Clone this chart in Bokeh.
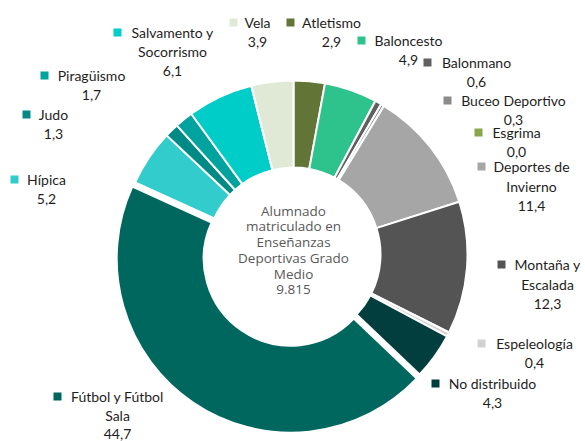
import math
from bokeh.plotting import figure
from bokeh.models import ColumnDataSource, Range1d
from bokeh.embed import file_html
from bokeh.resources import INLINE
from bokeh.core.properties import value

# ---------------- data ----------------
categories = ["Atletismo", "Baloncesto", "Balonmano", "Buceo Deportivo", "Esgrima",
              "Deportes de Invierno", "Montaña y Escalada", "Espeleología", "No distribuido",
              "Fútbol y Fútbol Sala", "Hípica", "Judo", "Piragüismo",
              "Salvamento y Socorrismo", "Vela"]
values = [2.9, 4.9, 0.6, 0.3, 0.0, 11.4, 12.3, 0.4, 4.3, 44.7, 5.2, 1.3, 1.7, 6.1, 3.9]
center_title = ["Alumnado", "matriculado en", "Enseñanzas", "Deportivas Grado", "Medio"]
total_students = "9.815"

# ---------------- styles / layout ----------------
colors = ["#637536", "#2ec28c", "#606060", "#8c8c8c", "#8aa64a",
          "#a6a6a6", "#545454", "#d2d2d2", "#023e3e",
          "#00675f", "#33cccc", "#008a86", "#00a39e",
          "#00ccc8", "#e0e8d6"]
line_breaks = {"Deportes de Invierno": ["Deportes de", "Invierno"],
               "Montaña y Escalada": ["Montaña y", "Escalada"],
               "Fútbol y Fútbol Sala": ["Fútbol y Fútbol", "Sala"],
               "Salvamento y Socorrismo": ["Salvamento y", "Socorrismo"]}
# label layout in pixels: (text centre x, first line y, marker x, line height)
label_pos = {"Atletismo": (331, 22, 290, 19.5), "Baloncesto": (408, 40, 361, 19.5),
             "Balonmano": (476, 62, 427, 19.5), "Buceo Deportivo": (513, 100, 447, 19),
             "Esgrima": (516, 132, 478, 19), "Deportes de Invierno": (531, 166, 481, 19.5),
             "Montaña y Escalada": (547, 264, 501, 19.5), "Espeleología": (534, 343, 481, 19.5),
             "No distribuido": (492, 383, 435, 19.5), "Fútbol y Fútbol Sala": (117, 396, 57, 18.5),
             "Hípica": (46, 179, 14, 19.5), "Judo": (53, 114, 26, 19.5),
             "Piragüismo": (91, 75, 44, 19.5),
             "Salvamento y Socorrismo": (172, 32, 117, 19), "Vela": (257, 22, 233, 19.5)}
explode = {"Fútbol y Fútbol Sala": 5}

W, H = 585, 441
CX, CY = 293, 254
R_OUT, R_IN = 174, 87
LABEL_FONT = "Lato"
LABEL_SIZE = "14px"


def fy(ypix):
    return H - ypix


p = figure(width=W, height=H, x_range=Range1d(0, W), y_range=Range1d(0, H),
           output_backend="svg", toolbar_location=None, min_border=0,
           x_axis_type=None, y_axis_type=None)
p.grid.visible = False
p.outline_line_color = None
p.background_fill_color = "white"
p.border_fill_color = "white"

total = sum(values)
xs, ys, starts, ends, cols = [], [], [], [], []
cum = 0.0
for cat, v, c in zip(categories, values, colors):
    t1 = cum / total * 2 * math.pi
    t2 = (cum + v) / total * 2 * math.pi
    cum += v
    if v <= 0:
        continue
    mid = math.pi / 2 - (t1 + t2) / 2
    e = explode.get(cat, 0)
    xs.append(CX + e * math.cos(mid))
    ys.append(fy(CY) + e * math.sin(mid))
    starts.append(math.pi / 2 - t2)
    ends.append(math.pi / 2 - t1)
    cols.append(c)

src = ColumnDataSource(dict(x=xs, y=ys, start=starts, end=ends, color=cols))
p.annular_wedge(x="x", y="y", inner_radius=R_IN, outer_radius=R_OUT,
                start_angle="start", end_angle="end", direction="anticlock",
                fill_color="color", line_color="white", line_width=2, source=src)

# labels
mx, my, mc = [], [], []
tx, ty, tt = [], [], []
for cat, v, c in zip(categories, values, colors):
    cxp, cyp, mxp, lh = label_pos[cat]
    lines = line_breaks.get(cat, [cat]) + [f"{v:.1f}".replace(".", ",")]
    mx.append(mxp)
    my.append(fy(cyp))
    mc.append(c)
    for i, ln in enumerate(lines):
        tx.append(cxp)
        ty.append(fy(cyp + i * lh))
        tt.append(ln)

p.scatter(x=mx, y=my, marker="square", size=8, fill_color=mc, line_color=None)
p.text(x=tx, y=ty, text=tt, text_align="center", text_baseline="middle",
       text_font=value(LABEL_FONT), text_font_size=LABEL_SIZE, text_color="#1e1e1e")

# centre text
c_lines = center_title + [total_students]
n = len(c_lines)
c_y = [fy(CY - 44 + i * 15.8) for i in range(n)]
p.text(x=[CX] * n, y=c_y, text=c_lines, text_align="center", text_baseline="middle",
       text_font=value("Open Sans"), text_font_size="13.5px", text_color="#595959")

open("out.html", "w").write(file_html(p, INLINE))
